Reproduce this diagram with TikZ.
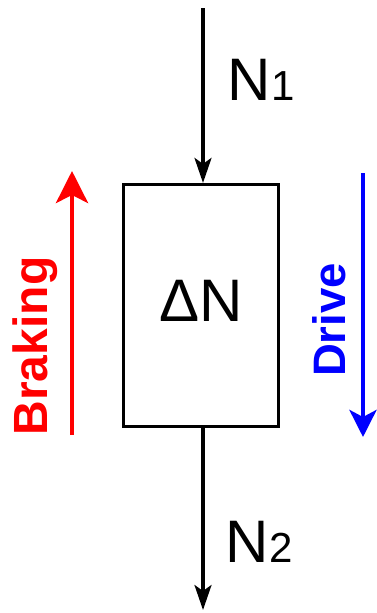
\documentclass[tikz,border=0pt]{standalone}
\usepackage{fontspec}
\setmainfont{Liberation Sans}
\usetikzlibrary{arrows.meta}
\begin{document}
\begin{tikzpicture}[x=1pt,y=-1pt,
  flow/.style={line width=3.2pt,-{Stealth[length=25pt,width=17pt,inset=6pt]}},
  braketip/.style={line width=4.5pt,red,-{Stealth[length=32pt,width=32pt,inset=8pt]}},
  drivetip/.style={line width=4.5pt,blue,-{Stealth[length=27pt,width=27pt,inset=7pt]}},
  blk/.style={draw,line width=3.2pt,minimum width=155pt,minimum height=242pt,inner sep=0pt},
  lbl/.style={inner sep=0pt,font=\fontsize{60}{72}\selectfont}]
\useasboundingbox (0,0) rectangle (376,613);
\node[blk] (box) at (201,305.5) {};
\node[lbl,anchor=center] (dn) at (201,301) {ΔN};
\coordinate (top) at (203,8);
\coordinate (bot) at (203,610);
\draw[flow] (top) -- (top |- box.north);
\draw[flow] (bot |- box.south) -- (bot);
\node[lbl,anchor=base west] (n1) at (227.5,100) {N{\fontsize{42}{50}\selectfont 1}};
\node[lbl,anchor=base west] (n2) at (225.5,562) {N{\fontsize{42}{50}\selectfont 2}};
\coordinate (rs) at (72,435);
\coordinate (re) at (72,171);
\draw[braketip] (rs) -- (re);
\coordinate (bs) at (363,173);
\coordinate (be) at (363,437);
\draw[drivetip] (bs) -- (be);
\node[inner sep=0pt,rotate=90,anchor=base,text=red,font=\bfseries\fontsize{48}{58}\selectfont] (brk) at (47,346) {Braking};
\node[inner sep=0pt,rotate=90,anchor=base,text=blue,font=\bfseries\fontsize{45.5}{55}\selectfont] (drv) at (345,320) {Drive};
\end{tikzpicture}
\end{document}
